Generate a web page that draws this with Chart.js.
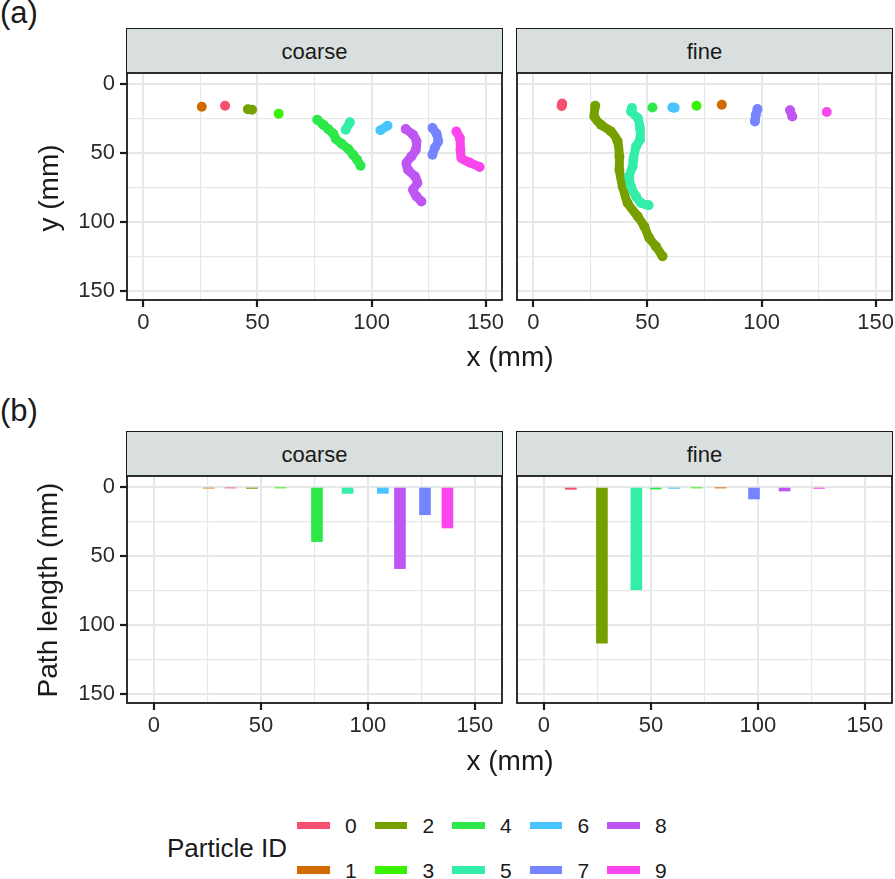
<!DOCTYPE html>
<html>
<head>
<meta charset="utf-8">
<script src="https://cdn.jsdelivr.net/npm/chart.js@4.4.0/dist/chart.umd.min.js"></script>
<style>
  html, body { margin: 0; padding: 0; width: 895px; height: 879px; overflow: hidden; background: #fff; }
  body { position: relative; font-family: "Liberation Sans", Arial, Helvetica, sans-serif; color: #1a1a1a; }
  canvas, .txt, .strip, .key { position: absolute; }
  .txt { white-space: nowrap; line-height: 1; }
  .strip { background: #D9DEDE; border: 1.8px solid #1a1a1a; border-bottom: none; box-sizing: border-box;
           font-size: 22px; display: flex; align-items: center; justify-content: center; }
</style>
</head>
<body>
<div class="txt" style="left:0;top:-3.5px;font-size:31px">(a)</div>
<div class="txt" style="left:0;top:394.5px;font-size:31px">(b)</div>

<div class="strip" style="left:126px;top:28px;width:377px;height:46px">coarse</div>
<div class="strip" style="left:516px;top:28px;width:377px;height:46px">fine</div>
<div class="strip" style="left:126px;top:431px;width:377px;height:46px">coarse</div>
<div class="strip" style="left:516px;top:431px;width:377px;height:46px">fine</div>

<canvas id="aCoarse" width="470" height="295" style="left:57px;top:49px"></canvas>
<canvas id="aFine" width="395" height="295" style="left:507px;top:49px"></canvas>
<canvas id="bCoarse" width="470" height="295" style="left:57px;top:452px"></canvas>
<canvas id="bFine" width="395" height="295" style="left:507px;top:452px"></canvas>

<div class="txt" style="left:48.5px;top:187.5px;font-size:28px;transform:translate(-50%,-50%) rotate(-90deg)">y (mm)</div>
<div class="txt" style="left:48px;top:590px;font-size:28px;transform:translate(-50%,-50%) rotate(-90deg)">Path length (mm)</div>
<div class="txt" style="left:510px;top:343px;font-size:28px;transform:translateX(-50%)">x (mm)</div>
<div class="txt" style="left:510px;top:746.7px;font-size:28px;transform:translateX(-50%)">x (mm)</div>

<div id="legend"></div>

<script>
// particle ids and their colours
const particleIds = ['0', '1', '2', '3', '4', '5', '6', '7', '8', '9'];
const particleColors = ['#F5506F', '#D16B00', '#76A000', '#39F200', '#2EE84A',
                        '#33EEA8', '#48C4FF', '#7585FF', '#BF56F4', '#FA46EC'];

// tracks (x, y in mm), one list per particle id
const coarseTracks = [
  [[35.8, 15.7]],
  [[25.6, 16.5]],
  [[45.8, 18.3], [47.6, 18.6]],
  [[59.3, 21.5]],
  [[76.2, 25.9], [78.8, 29.5], [81.0, 32.7], [83.2, 36.0], [84.4, 39.9], [86.9, 43.3],
   [89.8, 47.2], [91.9, 51.3], [93.7, 54.9], [95.2, 59.3]],
  [[90.5, 27.8], [88.7, 33.1]],
  [[107.0, 30.2], [103.9, 33.6]],
  [[126.7, 31.9], [128.5, 36.0], [129.2, 41.6], [127.7, 46.4], [126.7, 51.3]],
  [[115.0, 32.7], [118.2, 36.8], [119.7, 41.6], [119.4, 47.7], [117.5, 52.5], [115.3, 57.3],
   [116.0, 62.2], [119.0, 67.0], [120.1, 71.8], [118.2, 76.7], [119.7, 81.5], [121.9, 85.2]],
  [[137.2, 34.4], [138.7, 39.2], [139.0, 47.7], [139.4, 53.7], [143.0, 56.9], [147.4, 60.2]]
];
const fineTracks = [
  [[12.6, 14.2], [12.4, 16.0]],
  [[82.6, 15.0]],
  [[27.1, 15.7], [26.7, 23.5], [29.6, 29.5], [34.0, 34.4], [36.9, 41.6], [37.7, 52.5],
   [37.7, 62.2], [39.1, 74.3], [41.3, 86.3], [45.7, 96.0], [48.6, 103.3], [50.8, 111.7],
   [53.7, 117.8], [56.6, 125.0]],
  [[71.5, 15.7]],
  [[52.2, 17.0]],
  [[43.2, 17.4], [42.8, 19.9], [45.7, 24.7], [46.7, 31.9], [46.7, 40.4], [45.0, 45.3],
   [43.8, 54.9], [43.5, 59.8], [42.0, 67.0], [42.8, 74.3], [45.0, 81.5], [47.2, 86.3], [50.5, 88.0]],
  [[60.9, 17.0], [61.9, 17.2]],
  [[98.2, 18.2], [97.5, 22.3], [97.1, 27.1]],
  [[112.5, 19.1], [113.5, 23.5]],
  [[128.6, 20.3]]
];

// path length (mm) per particle id
const coarsePathLength = [0.6, 0.8, 1.0, 0.5, 39.6, 4.6, 4.6, 20.1, 59.2, 29.7];
const finePathLength = [1.7, 0.5, 113.3, 0.5, 1.5, 74.4, 1.0, 8.7, 2.9, 1.0];

// axis ticks (labelled) and grid positions
const majorTicks = [0, 50, 100, 150];
const gridValues = [0, 25, 50, 75, 100, 125, 150];
const FONT = '"Liberation Sans", Arial, Helvetica, sans-serif';

const panelBorder = {
  id: 'panelBorder',
  afterDraw(chart) {
    const { ctx, chartArea: a } = chart;
    ctx.save();
    ctx.strokeStyle = '#1a1a1a';
    ctx.lineWidth = 1.8;
    ctx.strokeRect(a.left, a.top, a.right - a.left, a.bottom - a.top);
    ctx.restore();
  }
};

function isMajor(c) {
  return c.tick && majorTicks.includes(c.tick.value);
}

function axis(pos, min, max, showLabels) {
  const horiz = pos === 'bottom';
  return {
    type: 'linear',
    position: pos,
    min: min,
    max: max,
    reverse: !horiz,
    offset: false,
    afterBuildTicks: s => { s.ticks = gridValues.map(v => ({ value: v })); },
    ticks: {
      display: showLabels,
      autoSkip: false,
      maxRotation: 0,
      padding: horiz ? 3 : 5,
      color: '#2b2b2b',
      font: { family: FONT, size: 22 },
      callback: v => majorTicks.includes(v) ? String(v) : ''
    },
    grid: {
      offset: false,
      color: '#E4E9E8',
      lineWidth: c => isMajor(c) ? 2 : 1.2,
      drawTicks: showLabels,
      tickLength: 7,
      tickWidth: 2.2,
      tickColor: c => isMajor(c) ? '#1a1a1a' : 'rgba(0,0,0,0)'
    },
    border: { display: false },
    afterFit: s => {
      if (horiz) s.height = 40;
      else s.width = showLabels ? 70 : 0;
    }
  };
}

function baseOptions(leftPanel, xMin, xMax) {
  return {
    responsive: false,
    animation: false,
    events: [],
    layout: { padding: leftPanel ? { top: 24, right: 25, bottom: 4, left: 0 }
                                 : { top: 24, right: 10, bottom: 4, left: 10 } },
    plugins: { legend: { display: false }, tooltip: { enabled: false } },
    scales: {
      x: axis('bottom', xMin, xMax, true),
      y: axis('left', -8, 156.7, leftPanel)
    }
  };
}

function trackChart(id, tracks, leftPanel) {
  new Chart(document.getElementById(id), {
    type: 'scatter',
    data: {
      datasets: tracks.map((pts, i) => ({
        label: particleIds[i],
        data: pts.map(p => ({ x: p[0], y: p[1] })),
        showLine: true,
        borderColor: particleColors[i],
        backgroundColor: particleColors[i],
        borderWidth: 9,
        borderCapStyle: 'round',
        borderJoinStyle: 'round',
        tension: 0.25,
        pointRadius: 5,
        pointBorderWidth: 0,
        order: 10 - i
      }))
    },
    options: baseOptions(leftPanel, -7.2, 157.2),
    plugins: [panelBorder]
  });
}

function barChart(id, tracks, lengths, leftPanel) {
  new Chart(document.getElementById(id), {
    type: 'bar',
    data: {
      datasets: [{
        data: particleIds.map((p, i) => ({ x: tracks[i][0][0], y: lengths[i] })),
        backgroundColor: particleColors,
        borderWidth: 0,
        barThickness: 11
      }]
    },
    options: baseOptions(leftPanel, -12.6, 162.7),
    plugins: [panelBorder]
  });
}

trackChart('aCoarse', coarseTracks, true);
trackChart('aFine', fineTracks, false);
barChart('bCoarse', coarseTracks, coarsePathLength, true);
barChart('bFine', fineTracks, finePathLength, false);

// legend: title on the left, keys in columns of two
const legend = document.getElementById('legend');
const title = document.createElement('div');
title.className = 'txt';
title.textContent = 'Particle ID';
title.style.cssText = 'left:167px;top:835px;font-size:26px';
legend.appendChild(title);
particleIds.forEach((p, i) => {
  const col = Math.floor(i / 2), row = i % 2;
  const x = 297 + col * 77.5;
  const cy = row === 0 ? 825.5 : 870.3;
  const key = document.createElement('div');
  key.className = 'key';
  key.style.cssText = `left:${x}px;top:${cy - 3.9}px;width:32.5px;height:7.8px;background:${particleColors[i]}`;
  legend.appendChild(key);
  const lbl = document.createElement('div');
  lbl.className = 'txt';
  lbl.textContent = p;
  lbl.style.cssText = `left:${x + 48}px;top:${cy - 10.5}px;font-size:21px;line-height:21px`;
  legend.appendChild(lbl);
});
</script>
</body>
</html>
